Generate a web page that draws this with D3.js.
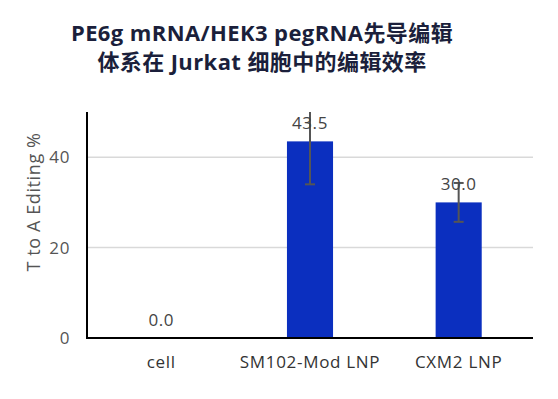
<!DOCTYPE html>
<html>
<head>
<meta charset="utf-8">
<script src="https://cdnjs.cloudflare.com/ajax/libs/d3/7.8.5/d3.min.js"></script>
<style>
  body { margin: 0; background: #fff; }
  svg { display: block; font-family: 'Open Sans', 'Noto Sans CJK SC', sans-serif; }
</style>
</head>
<body>
<svg id="chart" width="558" height="399"></svg>
<script>

// data
const categories = ["cell", "SM102-Mod LNP", "CXM2 LNP"];
const values = [0.0, 43.5, 30.0];
const errors = [0, 9.5, 4.3];
const yTicks = [0, 20, 40];
const titleLines = ["PE6g mRNA/HEK3 pegRNA先导编辑", "体系在 Jurkat 细胞中的编辑效率"];
const yTitle = "T to A Editing %";

const svg = d3.select("#chart");
const margin = {left: 87, right: 25, top: 112, bottom: 61};
const width = 558 - margin.left - margin.right;
const height = 399 - margin.top - margin.bottom;

const x = d3.scaleBand().domain(categories).range([0, width]).paddingInner(0.69).paddingOuter(0.345);
const y = d3.scaleLinear().domain([0, 50]).range([height, 0]);

const g = svg.append("g").attr("transform", `translate(${margin.left},${margin.top})`);

// title
svg.append("g").selectAll("text")
  .data(titleLines)
  .join("text")
  .attr("x", 262)
  .attr("y", (d, i) => 41 + i * 29)
  .attr("text-anchor", "middle")
  .attr("font-size", 22)
  .attr("font-weight", "bold")
  .attr("letter-spacing", 0.4)
  .attr("fill", "#1b1f3b")
  .text(d => d);

// gridlines
g.selectAll(".grid")
  .data(yTicks.filter(d => d > 0))
  .join("line")
  .attr("x1", 0).attr("x2", width)
  .attr("y1", d => y(d)).attr("y2", d => y(d))
  .attr("stroke", "#d9d9d9")
  .attr("stroke-width", 1.5);

// y tick labels
g.selectAll(".ytick")
  .data(yTicks)
  .join("text")
  .attr("x", -17)
  .attr("y", d => y(d))
  .attr("dy", "0.35em")
  .attr("text-anchor", "end")
  .attr("font-size", 17)
  .attr("letter-spacing", 0.6)
  .attr("fill", "#555")
  .text(d => d);

// bars
g.selectAll(".bar")
  .data(values)
  .join("rect")
  .attr("x", (d, i) => x(categories[i]))
  .attr("width", x.bandwidth())
  .attr("y", d => y(d))
  .attr("height", d => height - y(d))
  .attr("fill", "#0b2fbf");

// error bars
const eb = g.selectAll(".err")
  .data(values.map((v, i) => ({v, e: errors[i], c: categories[i]})).filter(d => d.e > 0))
  .join("g")
  .attr("transform", d => `translate(${x(d.c) + x.bandwidth() / 2},0)`);
eb.append("line")
  .attr("y1", d => y(Math.min(50, d.v + d.e)))
  .attr("y2", d => y(d.v - d.e))
  .attr("stroke", "#555").attr("stroke-width", 2);
eb.append("line")
  .attr("x1", -5).attr("x2", 5)
  .attr("y1", d => y(d.v - d.e)).attr("y2", d => y(d.v - d.e))
  .attr("stroke", "#555").attr("stroke-width", 2);
eb.filter(d => d.v + d.e <= 50).append("line")
  .attr("x1", -5).attr("x2", 5)
  .attr("y1", d => y(d.v + d.e)).attr("y2", d => y(d.v + d.e))
  .attr("stroke", "#555").attr("stroke-width", 2);

// value labels
g.selectAll(".val")
  .data(values)
  .join("text")
  .attr("x", (d, i) => x(categories[i]) + x.bandwidth() / 2)
  .attr("y", d => y(d) - 12)
  .attr("text-anchor", "middle")
  .attr("font-size", 17)
  .attr("letter-spacing", 0.6)
  .attr("fill", "#444")
  .text(d => d.toFixed(1));

// axes lines
g.append("line")
  .attr("x1", 0).attr("x2", width)
  .attr("y1", height).attr("y2", height)
  .attr("stroke", "#000").attr("stroke-width", 2);
g.append("line")
  .attr("x1", 0).attr("x2", 0)
  .attr("y1", 0).attr("y2", height + 1)
  .attr("stroke", "#000").attr("stroke-width", 2);

// x labels
g.selectAll(".xlab")
  .data(categories)
  .join("text")
  .attr("x", d => x(d) + x.bandwidth() / 2)
  .attr("y", height + 30)
  .attr("text-anchor", "middle")
  .attr("font-size", 17)
  .attr("letter-spacing", 0.7)
  .attr("fill", "#333")
  .text(d => d);

// y title
svg.append("text")
  .attr("transform", "translate(40,202) rotate(-90)")
  .attr("text-anchor", "middle")
  .attr("font-size", 18)
  .attr("letter-spacing", 0.6)
  .attr("fill", "#555")
  .text(yTitle);

</script>
</body>
</html>
